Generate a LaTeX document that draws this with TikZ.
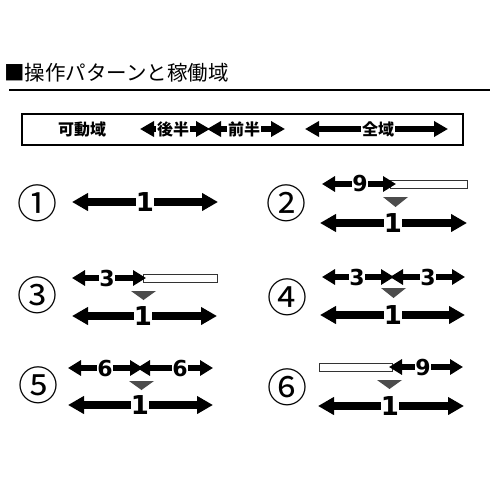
\documentclass[tikz,border=0pt]{standalone}
\usepackage{fontspec}
\usetikzlibrary{arrows.meta}
\newfontfamily\jpfont{Noto Sans CJK JP}
\newfontfamily\numfont{DejaVu Sans}
\begin{document}
\begin{tikzpicture}[x=1pt,y=-1pt,
  bigarr/.style={line width=7.5pt,{Triangle[length=16pt,width=17pt]}-{Triangle[length=16pt,width=17pt]}},
  toparr/.style={line width=6.5pt,{Triangle[length=13pt,width=15pt]}-{Triangle[length=13pt,width=15pt]}},
  legarr/.style={line width=5.5pt,{Triangle[length=14pt,width=15pt]}-{Triangle[length=14pt,width=15pt]}},
  one/.style={fill=white,inner sep=0.4pt,font=\numfont\bfseries\fontsize{26}{26}\selectfont},
  dig/.style={fill=white,inner sep=0.4pt,font=\numfont\bfseries\fontsize{22}{22}\selectfont},
  legtxt/.style={fill=white,inner sep=1pt,font=\jpfont\bfseries\fontsize{16}{16}\selectfont},
  circ/.style={font=\jpfont\fontsize{40}{40}\selectfont,inner sep=0pt},
  emptybar/.style={draw=black!80,fill=white,line width=0.8pt},
  marker/.style={fill=black!70,draw=none}
]
\useasboundingbox (0,0) rectangle (500,500);
% title
\node[anchor=west,inner sep=0pt,font=\jpfont\fontsize{20.5}{20.5}\selectfont] (title) at (4,73) {■操作パターンと稼働域};
\coordinate (r1) at (9,90); \coordinate (r2) at (490,90);
\draw[line width=2pt] (r1) -- (r2);
% legend
\draw[line width=1.2pt] (22,114) rectangle (463,145);
\node[legtxt] (kado) at (82,129) {可動域};
\coordinate (la1) at (140,129); \coordinate (la2) at (210,129);
\coordinate (lb1) at (207,129); \coordinate (lb2) at (285,129);
\coordinate (lc1) at (305,129); \coordinate (lc2) at (448,129);
\draw[legarr] (la1) -- (la2);
\draw[legarr] (lb1) -- (lb2);
\draw[legarr] (lc1) -- (lc2);
\node[legtxt] (kohan) at (173,129) {後半};
\node[legtxt] (zenhan) at (244,129) {前半};
\node[legtxt] (zeniki) at (378,129) {全域};
% panel 1
\node[circ] (c1) at (37,203) {①};
\coordinate (p1a) at (72,202); \coordinate (p1b) at (218,202);
\draw[bigarr] (p1a) -- (p1b);
\node[one] (p1l) at (145,202) {1};
% panel 2
\node[circ] (c2) at (286,203) {②};
\draw[emptybar] (390,180) rectangle (467,188);
\coordinate (p2a) at (322,184); \coordinate (p2b) at (396,184);
\draw[toparr] (p2a) -- (p2b);
\node[dig] (p2t) at (360,184) {9};
\fill[marker] (383,197) -- (408,197) -- (395.5,207) -- cycle;
\coordinate (p2c) at (320,223); \coordinate (p2d) at (467,223);
\draw[bigarr] (p2c) -- (p2d);
\node[one] (p2l) at (393,223) {1};
% panel 3
\node[circ] (c3) at (37,295) {③};
\draw[emptybar] (143,274) rectangle (217,282);
\coordinate (p3a) at (72,278); \coordinate (p3b) at (146,278);
\draw[toparr] (p3a) -- (p3b);
\node[dig] (p3t) at (107,278) {3};
\fill[marker] (131,291) -- (156,291) -- (143.5,300) -- cycle;
\coordinate (p3c) at (72,316); \coordinate (p3d) at (217,316);
\draw[bigarr] (p3c) -- (p3d);
\node[one] (p3l) at (143,316) {1};
% panel 4
\node[circ] (c4) at (287,297) {④};
\coordinate (p4a) at (322,277); \coordinate (p4b) at (394,277);
\coordinate (p4c) at (390,277); \coordinate (p4d) at (465,277);
\draw[toparr] (p4a) -- (p4b);
\draw[toparr] (p4c) -- (p4d);
\node[dig] (p4t1) at (357,277) {3};
\node[dig] (p4t2) at (428,277) {3};
\fill[marker] (381,288) -- (406,288) -- (393.5,298) -- cycle;
\coordinate (p4e) at (320,315); \coordinate (p4f) at (465,315);
\draw[bigarr] (p4e) -- (p4f);
\node[one] (p4l) at (393,315) {1};
% panel 5
\node[circ] (c5) at (38,385) {⑤};
\coordinate (p5a) at (68,368); \coordinate (p5b) at (143,368);
\coordinate (p5c) at (137,368); \coordinate (p5d) at (213,368);
\draw[toparr] (p5a) -- (p5b);
\draw[toparr] (p5c) -- (p5d);
\node[dig] (p5t1) at (105,368) {6};
\node[dig] (p5t2) at (180,368) {6};
\fill[marker] (129,381) -- (154,381) -- (141.5,390) -- cycle;
\coordinate (p5e) at (68,405); \coordinate (p5f) at (213,405);
\draw[bigarr] (p5e) -- (p5f);
\node[one] (p5l) at (140,405) {1};
% panel 6
\node[circ] (c6) at (287,387) {⑥};
\draw[emptybar] (319,363) rectangle (392,371);
\coordinate (p6a) at (389,367); \coordinate (p6b) at (463,367);
\draw[toparr] (p6a) -- (p6b);
\node[dig] (p6t) at (423,367) {9};
\fill[marker] (377,380) -- (402,380) -- (389.5,389) -- cycle;
\coordinate (p6c) at (318,406); \coordinate (p6d) at (464,406);
\draw[bigarr] (p6c) -- (p6d);
\node[one] (p6l) at (390,406) {1};
\end{tikzpicture}
\end{document}
